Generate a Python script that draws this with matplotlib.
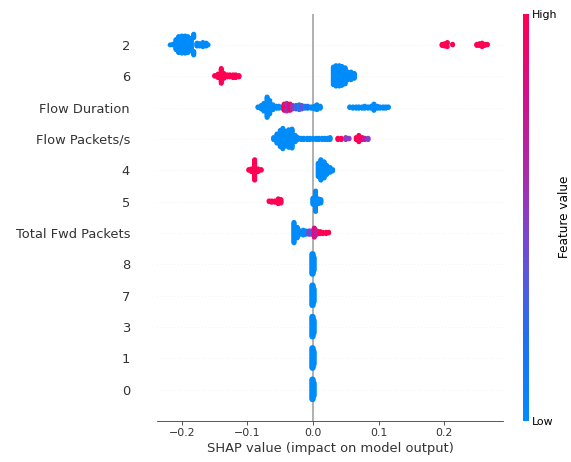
import numpy as np
import matplotlib
matplotlib.use('Agg')
import matplotlib.pyplot as plt
from matplotlib.colors import LinearSegmentedColormap
import matplotlib.cm as cm

# feature names, top row first
features = ['2', '6', 'Flow Duration', 'Flow Packets/s', '4', '5',
            'Total Fwd Packets', '8', '7', '3', '1', '0']

# (shap value, number of samples, feature value 0=low..1=high)
f_2 = [(-0.218, 1, 0), (-0.214, 2, 0), (-0.209, 18, 0), (-0.205, 28, 0), (-0.200, 30, 0),
       (-0.195, 30, 0), (-0.191, 28, 0), (-0.186, 22, 0), (-0.182, 14, 0), (-0.177, 6, 0),
       (-0.173, 5, 0), (-0.168, 8, 0), (-0.163, 6, 0), (-0.160, 1, 0),
       (0.197, 3, 1), (0.201, 5, 1), (0.205, 3, 1), (0.213, 2, 1),
       (0.250, 3, 1), (0.254, 4, 1), (0.258, 3, 1), (0.262, 3, 1), (0.266, 2, 1)]
f_6 = [(-0.150, 2, 1), (-0.145, 6, 1), (-0.140, 22, 1), (-0.136, 8, 1), (-0.131, 4, 1),
       (-0.127, 4, 1), (-0.122, 5, 1), (-0.118, 5, 1), (-0.113, 3, 1),
       (0.031, 26, 0), (0.035, 30, 0), (0.040, 30, 0), (0.044, 28, 0), (0.049, 24, 0),
       (0.053, 12, 0), (0.058, 12, 0), (0.063, 8, 0)]
f_flow_dur = [(-0.084, 2, 0), (-0.079, 6, 0), (-0.075, 12, 0), (-0.070, 30, 0), (-0.066, 20, 0),
              (-0.061, 8, 0), (-0.056, 4, 0), (-0.052, 4, 0), (-0.047, 3, 0),
              (-0.044, 10, 1), (-0.040, 6, 1), (-0.040, 6, 0.6), (-0.035, 10, 0.9), (-0.031, 6, 0.55),
              (-0.026, 6, 0.3), (-0.021, 8, 0.1), (-0.017, 6, 0.4), (-0.012, 4, 0.1),
              (-0.008, 4, 0.2), (-0.003, 3, 0), (0.002, 5, 0), (0.006, 8, 0), (0.011, 4, 0),
              (0.056, 2, 0), (0.061, 3, 0), (0.066, 3, 0), (0.070, 3, 0), (0.075, 3, 0),
              (0.079, 4, 0), (0.084, 3, 0), (0.089, 4, 0), (0.093, 10, 0), (0.098, 4, 0),
              (0.102, 3, 0), (0.107, 3, 0), (0.111, 3, 0), (0.115, 2, 0)]
f_flow_pkts = [(-0.060, 4, 0), (-0.055, 14, 0), (-0.050, 24, 0), (-0.046, 30, 0), (-0.041, 22, 0),
               (-0.037, 26, 0), (-0.032, 28, 0), (-0.027, 10, 0), (-0.023, 4, 0),
               (-0.018, 3, 0), (-0.014, 3, 0), (-0.009, 3, 0), (-0.005, 3, 0), (0.000, 3, 0),
               (0.005, 3, 0), (0.009, 3, 0), (0.014, 3, 0), (0.018, 3, 0), (0.022, 3, 0), (0.026, 4, 0),
               (0.038, 3, 1), (0.043, 3, 1), (0.050, 4, 0.5), (0.055, 2, 0.5),
               (0.066, 4, 1), (0.070, 10, 1), (0.075, 4, 0.9), (0.079, 3, 0.7), (0.084, 3, 0.5)]
f_4 = [(-0.098, 2, 1), (-0.094, 5, 1), (-0.089, 30, 1), (-0.084, 5, 1), (-0.079, 2, 1),
       (0.008, 20, 0), (0.012, 30, 0), (0.017, 24, 0), (0.021, 14, 0), (0.026, 8, 0), (0.030, 3, 0)]
f_5 = [(-0.067, 2, 1), (-0.063, 3, 1), (-0.058, 3, 1), (-0.053, 8, 1), (-0.049, 6, 1),
       (0.000, 10, 0), (0.004, 30, 0), (0.008, 8, 0), (0.012, 6, 0)]
f_total_fwd = [(-0.029, 30, 0), (-0.024, 16, 0), (-0.020, 6, 0), (-0.015, 8, 0), (-0.011, 6, 0),
               (-0.006, 6, 0.5), (-0.002, 6, 0.3), (0.002, 14, 0.85), (0.006, 6, 0.7),
               (0.011, 4, 1), (0.015, 3, 1), (0.020, 3, 1), (0.024, 2, 1)]
f_8 = [(-0.0015, 30, 0), (0.0, 30, 0), (0.0015, 20, 0)]
f_7 = [(-0.0015, 30, 0), (0.0, 30, 0), (0.0015, 20, 0)]
f_3 = [(-0.0015, 30, 0), (0.0, 30, 0), (0.0015, 20, 0)]
f_1 = [(-0.0015, 30, 0), (0.0, 30, 0), (0.0015, 20, 0)]
f_0 = [(-0.0015, 30, 0), (0.0, 30, 0), (0.0015, 20, 0)]

feature_data = [f_2, f_6, f_flow_dur, f_flow_pkts, f_4, f_5, f_total_fwd,
                f_8, f_7, f_3, f_1, f_0]

# shap-like red/blue colormap
red_blue = LinearSegmentedColormap.from_list('red_blue', [
    (0.0, '#008bfb'), (0.2, '#1f70f2'), (0.4, '#6a4fd8'), (0.5, '#8a3ec6'),
    (0.6, '#a82cad'), (0.8, '#d3108a'), (1.0, '#ff0052')])

axis_color = '#333333'
fig = plt.figure(figsize=(571 / 72, 462 / 72), dpi=72)
ax = fig.add_axes([0.275, 0.0887, 0.606, 0.882])
cax = fig.add_axes([0.9165, 0.0887, 0.0095, 0.882])

n_feat = len(features)
row_height = 0.4
for i, (name, data) in enumerate(zip(features, feature_data)):
    pos = n_feat - 1 - i
    ax.axhline(pos, color='#cccccc', lw=0.5, dashes=(1, 5), zorder=-1)
    shaps = np.repeat([d[0] for d in data], [d[1] for d in data])
    fvals = np.repeat([d[2] for d in data], [d[1] for d in data])
    N = len(shaps)
    nbins = 100
    quant = np.round(nbins * (shaps - shaps.min()) / (shaps.max() - shaps.min() + 1e-8))
    inds = np.argsort(quant, kind='stable')
    layer = 0
    last_bin = -1
    ys = np.zeros(N)
    for ind in inds:
        if quant[ind] != last_bin:
            layer = 0
        ys[ind] = np.ceil(layer / 2) * ((layer % 2) * 2 - 1)
        layer += 1
        last_bin = quant[ind]
    ys *= 0.9 * (row_height / np.max(ys + 1))
    ax.scatter(shaps, pos + ys, c=fvals, cmap=red_blue, vmin=0, vmax=1,
               s=24, linewidth=0, alpha=1, zorder=3, rasterized=True)

ax.axvline(0, color='#999999', zorder=-1)
ax.set_xlim(-0.238, 0.29)
ax.set_ylim(-1, n_feat)
ax.set_yticks(range(n_feat))
ax.set_yticklabels(features[::-1], fontsize=13)
ax.set_xticks([-0.2, -0.1, 0.0, 0.1, 0.2])
ax.set_xticklabels(['\u22120.2', '\u22120.1', '0.0', '0.1', '0.2'])
for s in ['right', 'top', 'left']:
    ax.spines[s].set_visible(False)
ax.spines['bottom'].set_color(axis_color)
ax.tick_params('y', length=0, pad=27, labelcolor=axis_color)
ax.tick_params('x', labelsize=11, color=axis_color, labelcolor=axis_color)
ax.set_xlabel('SHAP value (impact on model output)', fontsize=13, color=axis_color, labelpad=4)

m = cm.ScalarMappable(cmap=red_blue)
m.set_array([0, 1])
cb = fig.colorbar(m, cax=cax, ticks=[0, 1])
cb.set_ticklabels(['Low', 'High'])
cb.set_label('Feature value', size=12, labelpad=0)
cb.ax.tick_params(labelsize=11, length=0)
cb.outline.set_visible(False)

fig.savefig('out.png', dpi=72)
